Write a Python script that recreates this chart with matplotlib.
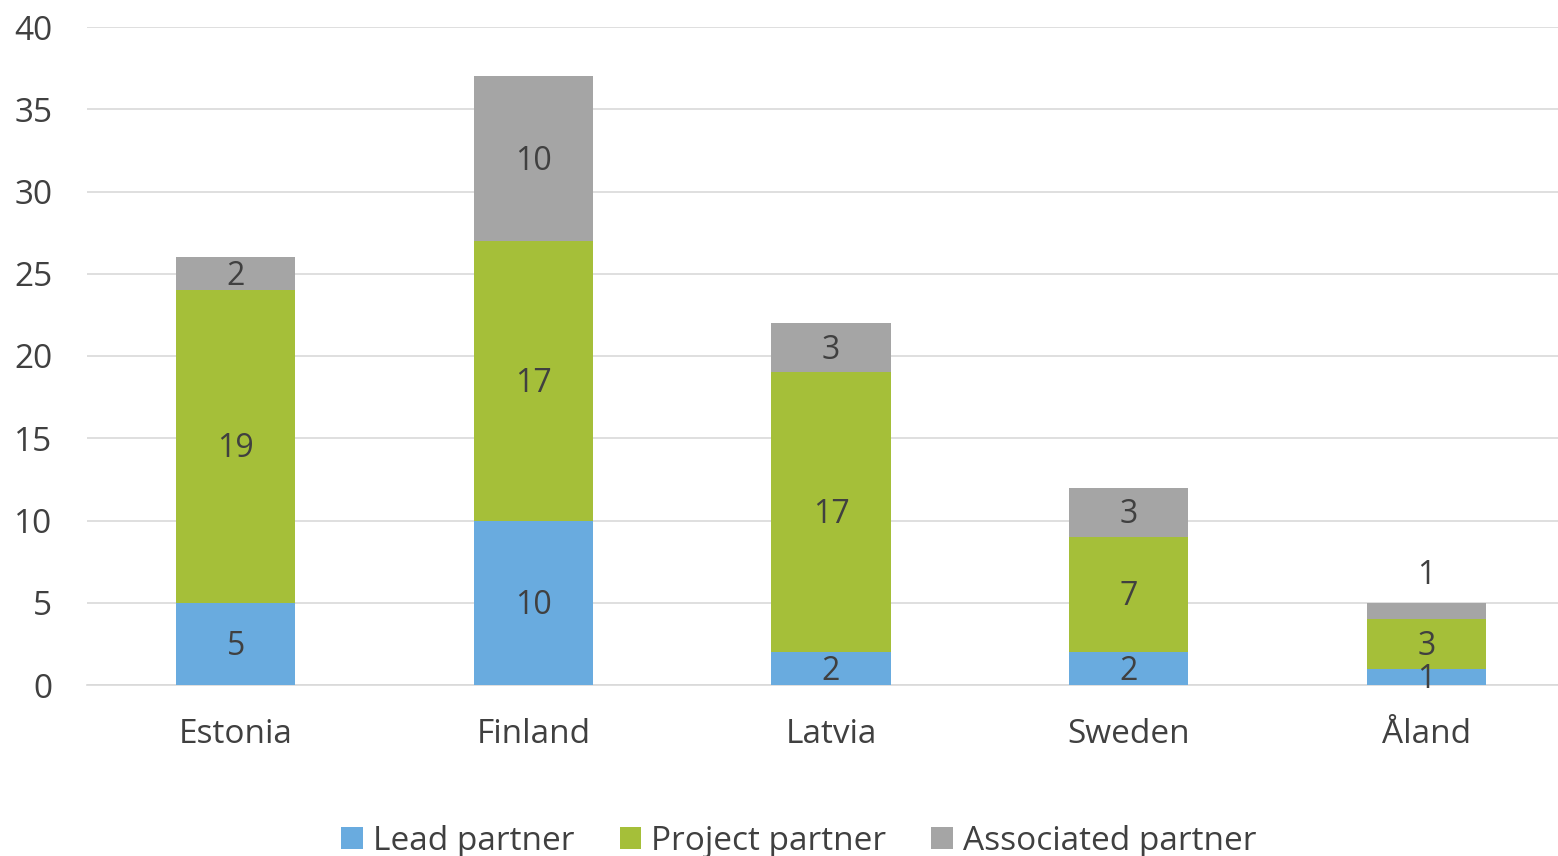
import matplotlib
matplotlib.use("Agg")
import matplotlib.pyplot as plt
import numpy as np

countries = ["Estonia", "Finland", "Latvia", "Sweden", "Åland"]
lead = [5, 10, 2, 2, 1]
project = [19, 17, 17, 7, 3]
associated = [2, 10, 3, 3, 1]
series_names = ["Lead partner", "Project partner", "Associated partner"]
colors = ["#69ABDF", "#A5BF39", "#A5A5A5"]
yticks = [0, 5, 10, 15, 20, 25, 30, 35, 40]

plt.rcParams['font.family'] = ['Open Sans', 'DejaVu Sans']
txt = "#404040"

fig = plt.figure(figsize=(15.58, 8.56), dpi=100)
ax = fig.add_axes([87/1558, 1-685/856, 1488/1558, (685-27)/856])

x = np.arange(len(countries))
bottom = np.zeros(len(countries))
for vals, name, c in zip([lead, project, associated], series_names, colors):
    ax.bar(x, vals, 0.4, bottom=bottom, color=c, label=name, zorder=3)
    for i, (v, b) in enumerate(zip(vals, bottom)):
        ypos = b + v / 2
        if name == "Associated partner" and v == 1:
            ypos = b + v + 1.8
        ax.text(x[i], ypos - 0.15, str(v), ha="center", va="center", fontsize=23, color=txt, zorder=4)
    bottom += np.array(vals)

ax.set_ylim(0, 40)
ax.set_xlim(-0.5, 4.5)
ax.set_yticks(yticks)
ax.set_xticks(x)
ax.set_xticklabels(countries)
ax.grid(axis="y", color="#D9D9D9", linewidth=1.2, zorder=0)
for s in ["top", "right", "left"]:
    ax.spines[s].set_visible(False)
ax.spines["bottom"].set_color("#D9D9D9")
ax.spines["bottom"].set_linewidth(1.2)
ax.tick_params(axis="both", length=0, labelsize=24, colors=txt)
ax.tick_params(axis="x", pad=24)
ax.tick_params(axis="y", pad=25)

leg = fig.legend(loc="center", bbox_to_anchor=(799/1558, 1-841/856), ncol=3, frameon=False,
                 fontsize=24, handlelength=0.65, handleheight=0.65, handletextpad=0.3,
                 columnspacing=1.35, labelcolor=txt)

fig.savefig("out.png", dpi=100)
